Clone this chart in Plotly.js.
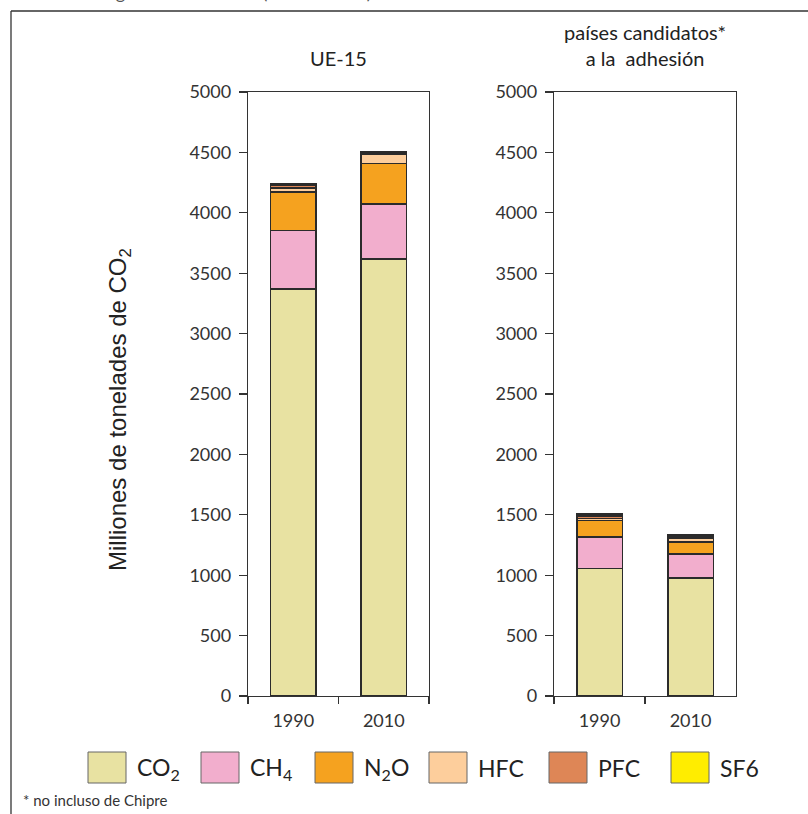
<!DOCTYPE html>
<html>
<head>
<meta charset="utf-8">
<script src="https://cdn.plot.ly/plotly-3.0.1.min.js"></script>
<style>html,body{margin:0;padding:0;background:#fff;}#chart{width:808px;height:814px;}</style>
</head>
<body>
<div id="chart"></div>
<script>
// ---- data ----
const years = ['1990', '2010'];
const gasNames = ['CO<sub>2</sub>', 'CH<sub>4</sub>', 'N<sub>2</sub>O', 'HFC', 'PFC', 'SF6'];
const gasColors = ['#E8E2A2', '#F2AECD', '#F5A21F', '#FDCE9C', '#DE8656', '#FFED00'];
const yTicks = [0, 500, 1000, 1500, 2000, 2500, 3000, 3500, 4000, 4500, 5000];

// UE-15 (millones de t CO2 eq.)
const ue15CO2 = [3371, 3619];
const ue15CH4 = [484, 452];
const ue15N2O = [319, 339];
const ue15HFC = [33, 71];
const ue15PFC = [17, 14];
const ue15SF6 = [14, 8];

// países candidatos a la adhesión
const candCO2 = [1054, 975];
const candCH4 = [263, 199];
const candN2O = [137, 99];
const candHFC = [16, 34];
const candPFC = [20, 18];
const candSF6 = [15, 8];

const panelTitles = ['UE-15', 'países candidatos*<br>a la\u00a0\u00a0adhesión'];
const yTitle = 'Milliones de tonelades de CO<sub>2</sub>';
const footnote = '* no incluso de Chipre';
const topText = 'Emisiones de gases invernadero (1990 - 2010)';

// ---- build ----
const W = 808, H = 814;
const px = v => v / W, py = v => 1 - v / H;
const ue15Series = [ue15CO2, ue15CH4, ue15N2O, ue15HFC, ue15PFC, ue15SF6];
const candSeries = [candCO2, candCH4, candN2O, candHFC, candPFC, candSF6];

const traces = [];
function addPanel(series, xa, ya) {
  series.forEach((vals, i) => {
    traces.push({
      type: 'bar', x: years, y: vals, name: gasNames[i],
      xaxis: xa, yaxis: ya, width: 0.5, showlegend: false,
      marker: {color: gasColors[i], line: {color: '#2b2b2b', width: 1.5}},
      hoverinfo: 'y+name'
    });
  });
}
addPanel(ue15Series, 'x', 'y');
addPanel(candSeries, 'x2', 'y2');

const font = {family: 'Lato, "Open Sans", sans-serif', size: 18, color: '#333'};
const lineCol = '#333';
const xDom1 = [px(248), px(429)], xDom2 = [px(554), px(736)];
const yDom = [py(696), py(92)];

function xBase(dom, anchor) {
  return {domain: dom, anchor: anchor, type: 'category', range: [-0.5, 1.5],
    tickson: 'boundaries', ticks: 'outside', ticklen: 7, tickwidth: 1.2, tickcolor: lineCol,
    showline: true, linecolor: lineCol, linewidth: 1.2, mirror: true,
    showgrid: false, zeroline: false, tickfont: font, ticklabelstandoff: 8, fixedrange: true};
}
function yBase(anchor) {
  return {domain: yDom, anchor: anchor, range: [0, 5000], tickvals: yTicks,
    ticks: 'outside', ticklen: 8, tickwidth: 1.2, tickcolor: lineCol,
    showline: true, linecolor: lineCol, linewidth: 1.2, mirror: true,
    showgrid: false, zeroline: false, tickfont: font, ticklabelstandoff: 4, fixedrange: true};
}
function yInner(over, anchor) {
  return {overlaying: over, anchor: anchor, side: 'left', range: [0, 5000], tickvals: yTicks,
    ticks: 'inside', ticklen: 7, tickwidth: 1.2, tickcolor: lineCol,
    showticklabels: false, showline: false, showgrid: false, zeroline: false, fixedrange: true};
}
function xInner(over, anchor) {
  return {overlaying: over, anchor: anchor, side: 'bottom', type: 'linear', range: [-0.5, 1.5], tickvals: [0.5],
    ticks: 'inside', ticklen: 6, tickwidth: 1.2, tickcolor: lineCol,
    showticklabels: false, showline: false, showgrid: false, zeroline: false, fixedrange: true};
}

const annotations = [
  {text: panelTitles[0], x: (xDom1[0] + xDom1[1]) / 2, y: py(58), xref: 'paper', yref: 'paper',
   xanchor: 'center', yanchor: 'middle', showarrow: false, font: {family: font.family, size: 20, color: '#222'}},
  {text: panelTitles[1], x: px(645), y: py(45), xref: 'paper', yref: 'paper',
   xanchor: 'center', yanchor: 'middle', showarrow: false, font: {family: font.family, size: 20, color: '#222'}},
  {text: yTitle, textangle: -90, x: px(119), y: py(410), xref: 'paper', yref: 'paper',
   xanchor: 'center', yanchor: 'middle', showarrow: false,
   font: {family: '"Liberation Sans", Arial, sans-serif', size: 24, color: '#222'}},
  {text: footnote, x: px(21), y: py(800), xref: 'paper', yref: 'paper',
   xanchor: 'left', yanchor: 'middle', showarrow: false, font: {family: font.family, size: 15, color: '#333'}},
  {text: topText, x: px(6), y: py(5), xref: 'paper', yref: 'paper',
   xanchor: 'left', yanchor: 'bottom', showarrow: false, font: {family: font.family, size: 18, color: '#555'}}
];

const shapes = [
  {type: 'line', xref: 'paper', yref: 'paper', x0: px(11), x1: px(11), y0: py(11), y1: -0.01, line: {color: lineCol, width: 1.3}},
  {type: 'line', xref: 'paper', yref: 'paper', x0: px(11), x1: 1.01, y0: py(11), y1: py(11), line: {color: lineCol, width: 1.3}}
];

// legend (manual, big swatches)
const legX = [88, 201, 315, 429, 549, 671];
gasNames.forEach((g, i) => {
  shapes.push({type: 'rect', xref: 'paper', yref: 'paper', x0: px(legX[i]), x1: px(legX[i] + 38),
    y0: py(783), y1: py(752), fillcolor: gasColors[i], line: {color: '#666', width: 1}});
  annotations.push({text: g, x: px(legX[i] + 47), y: py(768), xref: 'paper', yref: 'paper',
    xanchor: 'left', yanchor: 'middle', showarrow: false, font: {family: font.family, size: 23, color: '#222'}});
});

const layout = {
  width: W, height: H, margin: {l: 0, r: 0, t: 0, b: 0},
  paper_bgcolor: '#fff', plot_bgcolor: '#fff',
  barmode: 'stack', showlegend: false, font: font,
  xaxis: xBase(xDom1, 'y'), yaxis: yBase('x'),
  xaxis2: xBase(xDom2, 'y2'), yaxis2: yBase('x2'),
  xaxis3: xInner('x', 'y'), yaxis3: yInner('y', 'x'),
  xaxis4: xInner('x2', 'y2'), yaxis4: yInner('y2', 'x2'),
  annotations: annotations, shapes: shapes
};

Plotly.newPlot('chart', traces, layout, {displayModeBar: false, staticPlot: true});
</script>
</body>
</html>
